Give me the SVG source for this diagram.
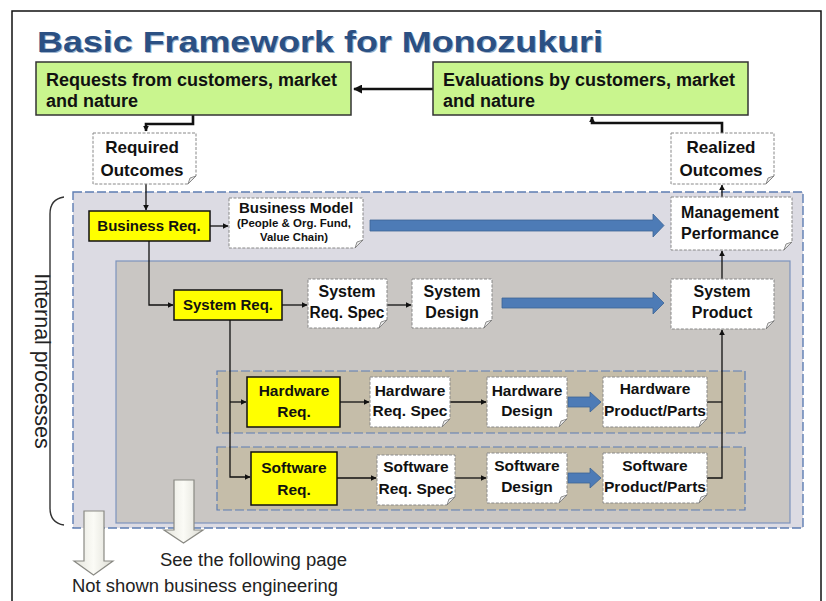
<svg xmlns="http://www.w3.org/2000/svg" width="826" height="601" viewBox="0 0 826 601">
<defs>
<marker id="ah" viewBox="0 0 10 10" refX="9" refY="5" markerWidth="6" markerHeight="6" markerUnits="userSpaceOnUse" orient="auto"><path d="M0,0 L10,5 L0,10 Z" fill="#111"/></marker>
<marker id="ahb" viewBox="0 0 10 10" refX="9" refY="5" markerWidth="9" markerHeight="9" markerUnits="userSpaceOnUse" orient="auto"><path d="M0,0 L10,5 L0,10 Z" fill="#111"/></marker>
<linearGradient id="hollow" x1="0" y1="0" x2="1" y2="0"><stop offset="0" stop-color="#e4e4dc"/><stop offset="0.5" stop-color="#fbfbf6"/><stop offset="1" stop-color="#dcdcd4"/></linearGradient>
</defs>
<style>
.t{font-family:"Liberation Sans",Arial,sans-serif;font-weight:bold;fill:#111;}
.c{text-anchor:middle;}
.green{fill:#c9f58e;stroke:#333;stroke-width:1.5;}
.yel{fill:#ffff00;stroke:#111;stroke-width:1.5;}
.note{fill:#ffffff;stroke:#888;stroke-width:1;stroke-dasharray:3 1.5;}
.fold{fill:#e8e8e8;stroke:#777;stroke-width:0.8;}
.ln{fill:none;stroke:#111;stroke-width:1.3;}
.thick{fill:none;stroke:#111;stroke-width:2.6;}
.blue{fill:#4d7bb6;stroke:#3c6496;stroke-width:0.8;}
.hollow{fill:url(#hollow);stroke:#8a8a84;stroke-width:1.2;}
.plain{font-family:"Liberation Sans",Arial,sans-serif;fill:#222;}
</style>
<rect x="0" y="0" width="826" height="601" fill="#ffffff"/>
<rect x="12" y="11" width="809" height="600" fill="none" stroke="#111" stroke-width="1.5"/>

<text x="38" y="53" font-family="Liberation Sans,Arial,sans-serif" font-weight="bold" font-size="30" fill="#9fb4cc" textLength="566" lengthAdjust="spacingAndGlyphs">Basic Framework for Monozukuri</text>
<text x="37" y="52" font-family="Liberation Sans,Arial,sans-serif" font-weight="bold" font-size="30" fill="#2b5083" textLength="566" lengthAdjust="spacingAndGlyphs">Basic Framework for Monozukuri</text>

<!-- regions -->
<g id="internal-processes">
<rect x="73" y="192" width="730" height="336" fill="#dcdbe3" stroke="#5d7db3" stroke-width="1.4" stroke-dasharray="9 3"/>
<rect x="116" y="261" width="674" height="262" fill="#c9c6c3" stroke="#7d93bd" stroke-width="1.2"/>
<rect x="217" y="371" width="528" height="62" fill="#c5bda9" stroke="#5d7db3" stroke-width="1.2" stroke-dasharray="9 3"/>
<rect x="217" y="447" width="528" height="63" fill="#c5bda9" stroke="#5d7db3" stroke-width="1.2" stroke-dasharray="9 3"/>
<path d="M64,197 Q50,199 50,214 L50,508 Q50,523 64,525" fill="none" stroke="#333" stroke-width="1.4"/>
<text class="plain" font-size="21.5" text-anchor="middle" transform="translate(35,361) rotate(90)">Internal processes</text>
</g>

<!-- connectors -->
<g id="connectors">
<path class="thick" d="M433,89 H354" marker-end="url(#ahb)"/>
<path class="thick" d="M193,115 V124 H146 V131" marker-end="url(#ah)"/>
<path class="thick" d="M722,133 V123 H592 V117" marker-end="url(#ah)"/>
<path class="ln" d="M146,184 V210" marker-end="url(#ah)"/>
<path class="ln" d="M210,226 H228" marker-end="url(#ah)"/>
<path class="ln" d="M149,241 V305 H173" marker-end="url(#ah)"/>
<path class="ln" d="M282,305 H307" marker-end="url(#ah)"/>
<path class="ln" d="M387,305 H411" marker-end="url(#ah)"/>
<path class="ln" d="M722,279 V251" marker-end="url(#ah)"/>
<path class="ln" d="M722,197 V185" marker-end="url(#ah)"/>
<path class="ln" d="M230,320 V477 H250" marker-end="url(#ah)"/>
<path class="ln" d="M230,402 H246" marker-end="url(#ah)"/>
<path class="ln" d="M340,402 H369" marker-end="url(#ah)"/>
<path class="ln" d="M450,402 H486" marker-end="url(#ah)"/>
<path class="ln" d="M337,478 H376" marker-end="url(#ah)"/>
<path class="ln" d="M455,478 H486" marker-end="url(#ah)"/>
<path class="ln" d="M707,402 H722" stroke="#6b6254"/>
<path class="ln" d="M707,478 H722 V330" stroke-width="1.8" marker-end="url(#ah)"/>
<path class="blue" d="M370,220 H653 V214 L664,225.5 L653,237 V231 H370 Z"/>
<path class="blue" d="M502,298 H653 V292 L664,303 L653,314 V308 H502 Z"/>
<path class="blue" d="M568,397 H590 V392 L601,402 L590,412 V407 H568 Z"/>
<path class="blue" d="M568,473 H590 V468 L601,478 L590,488 V483 H568 Z"/>
</g>

<g id="requests"><rect class="green" x="36" y="62" width="315" height="53"/>
<text class="t" x="46" y="86" font-size="18" textLength="291" lengthAdjust="spacingAndGlyphs">Requests from customers, market</text>
<text class="t" x="46" y="107" font-size="18">and nature</text></g>

<g id="evaluations"><rect class="green" x="433" y="62" width="315" height="53"/>
<text class="t" x="443" y="86" font-size="18" textLength="292" lengthAdjust="spacingAndGlyphs">Evaluations by customers, market</text>
<text class="t" x="443" y="107" font-size="18">and nature</text></g>

<g id="required-outcomes"><path class="note" d="M93,133 H196 V176 L188,184 H93 Z"/><path class="fold" d="M196,176 L188,184 L190,178 Z"/>
<text class="t c" x="142" y="153" font-size="17">Required</text><text class="t c" x="142" y="176" font-size="17">Outcomes</text></g>

<g id="realized-outcomes"><path class="note" d="M671,133 H774 V176 L766,184 H671 Z"/><path class="fold" d="M774,176 L766,184 L768,178 Z"/>
<text class="t c" x="721" y="153" font-size="17">Realized</text><text class="t c" x="721" y="176" font-size="17">Outcomes</text></g>

<g id="business-req"><rect class="yel" x="89" y="211" width="121" height="30"/>
<text class="t c" x="149" y="231" font-size="15">Business Req.</text></g>

<g id="business-model"><path class="note" d="M229,198 H363 V240 L355,248 H229 Z"/><path class="fold" d="M363,240 L355,248 L357,242 Z"/>
<text class="t c" x="296" y="213" font-size="15" fill="#1a2233">Business Model</text>
<text class="t c" x="294" y="227" font-size="10" fill="#333a4a" textLength="114" lengthAdjust="spacingAndGlyphs">(People &amp; Org. Fund,</text>
<text class="t c" x="294" y="241" font-size="10" fill="#333a4a" textLength="68" lengthAdjust="spacingAndGlyphs">Value Chain)</text></g>

<g id="management-performance"><path class="note" d="M671,197 H792 V242 L784,250 H671 Z"/><path class="fold" d="M792,242 L784,250 L786,244 Z"/>
<text class="t c" x="730" y="218" font-size="16">Management</text><text class="t c" x="730" y="239" font-size="16">Performance</text></g>

<g id="system-req"><rect class="yel" x="174" y="290" width="108" height="30"/>
<text class="t c" x="228" y="310" font-size="15">System Req.</text></g>

<g id="system-req-spec"><path class="note" d="M308,279 H387 V320 L379,328 H308 Z"/><path class="fold" d="M387,320 L379,328 L381,322 Z"/>
<text class="t c" x="347" y="297" font-size="16">System</text><text class="t c" x="347" y="318" font-size="16" textLength="75" lengthAdjust="spacingAndGlyphs">Req. Spec</text></g>

<g id="system-design"><path class="note" d="M412,279 H492 V320 L484,328 H412 Z"/><path class="fold" d="M492,320 L484,328 L486,322 Z"/>
<text class="t c" x="452" y="297" font-size="16">System</text><text class="t c" x="452" y="318" font-size="16">Design</text></g>

<g id="system-product"><path class="note" d="M671,279 H774 V321 L766,329 H671 Z"/><path class="fold" d="M774,321 L766,329 L768,323 Z"/>
<text class="t c" x="722" y="297" font-size="16">System</text><text class="t c" x="722" y="318" font-size="16">Product</text></g>

<g id="hardware-req"><rect class="yel" x="247" y="377" width="93" height="50"/>
<text class="t c" x="294" y="396" font-size="15.5">Hardware</text><text class="t c" x="294" y="417" font-size="15.5">Req.</text></g>

<g id="hardware-req-spec"><path class="note" d="M370,377 H450 V419 L442,427 H370 Z"/><path class="fold" d="M450,419 L442,427 L444,421 Z"/>
<text class="t c" x="410" y="396" font-size="15.5">Hardware</text><text class="t c" x="410" y="416" font-size="15.5">Req. Spec</text></g>

<g id="hardware-design"><path class="note" d="M487,377 H567 V419 L559,427 H487 Z"/><path class="fold" d="M567,419 L559,427 L561,421 Z"/>
<text class="t c" x="527" y="396" font-size="15.5">Hardware</text><text class="t c" x="527" y="416" font-size="15.5">Design</text></g>

<g id="hardware-product"><path class="note" d="M603,377 H707 V419 L699,427 H603 Z"/><path class="fold" d="M707,419 L699,427 L701,421 Z"/>
<text class="t c" x="655" y="394" font-size="15.5">Hardware</text><text class="t c" x="655" y="416" font-size="15.5" textLength="102" lengthAdjust="spacingAndGlyphs">Product/Parts</text></g>

<g id="software-req"><rect class="yel" x="251" y="452" width="86" height="53"/>
<text class="t c" x="294" y="473" font-size="15.5">Software</text><text class="t c" x="294" y="495" font-size="15.5">Req.</text></g>

<g id="software-req-spec"><path class="note" d="M377,455 H455 V497 L447,505 H377 Z"/><path class="fold" d="M455,497 L447,505 L449,499 Z"/>
<text class="t c" x="416" y="472" font-size="15.5">Software</text><text class="t c" x="416" y="494" font-size="15.5">Req. Spec</text></g>

<g id="software-design"><path class="note" d="M487,453 H567 V495 L559,503 H487 Z"/><path class="fold" d="M567,495 L559,503 L561,497 Z"/>
<text class="t c" x="527" y="471" font-size="15.5">Software</text><text class="t c" x="527" y="492" font-size="15.5">Design</text></g>

<g id="software-product"><path class="note" d="M603,453 H707 V495 L699,503 H603 Z"/><path class="fold" d="M707,495 L699,503 L701,497 Z"/>
<text class="t c" x="655" y="471" font-size="15.5">Software</text><text class="t c" x="655" y="492" font-size="15.5" textLength="102" lengthAdjust="spacingAndGlyphs">Product/Parts</text></g>

<g id="see-following">
<path class="hollow" d="M174,480 H194 V530 H203 L183.5,543 L164,530 H174 Z"/>
<text class="plain" x="160" y="566" font-size="18" textLength="187" lengthAdjust="spacingAndGlyphs">See the following page</text></g>

<g id="not-shown">
<path class="hollow" d="M84,511 H104 V561 H113 L93.5,575 L74,561 H84 Z"/>
<text class="plain" x="72" y="592" font-size="18" textLength="266" lengthAdjust="spacingAndGlyphs">Not shown business engineering</text></g>
</svg>
